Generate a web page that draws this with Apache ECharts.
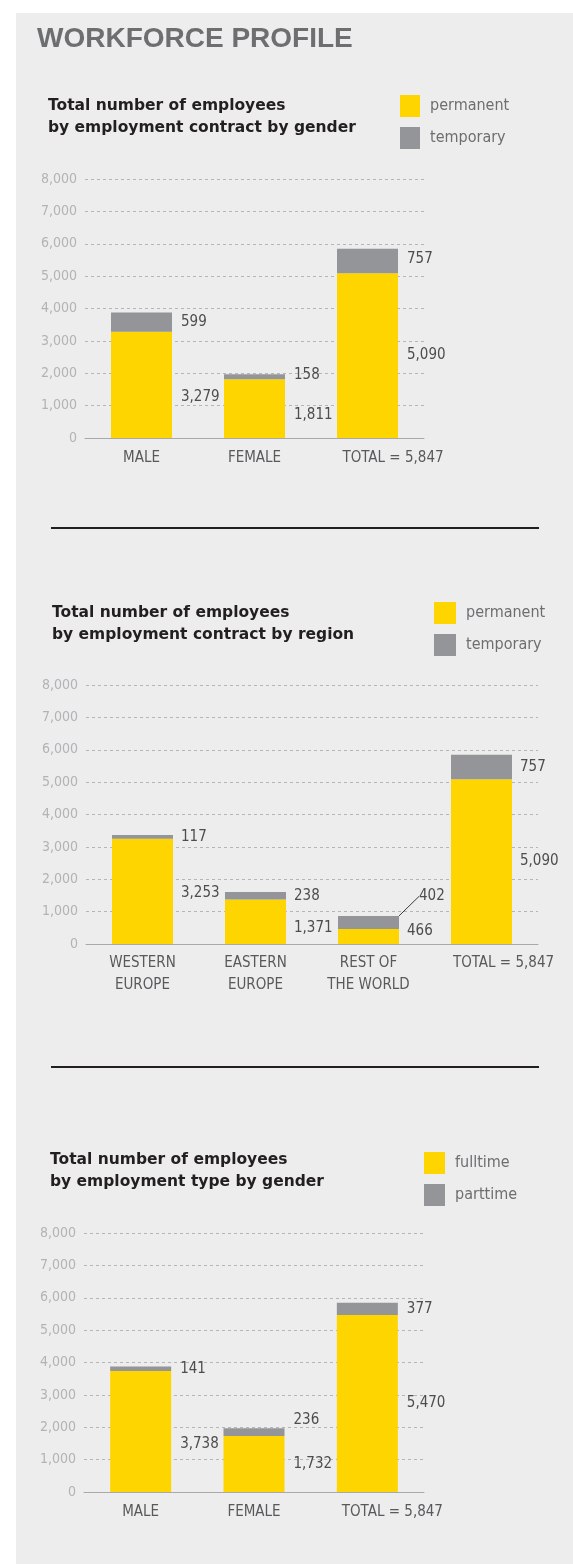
<!DOCTYPE html>
<html>
<head>
<meta charset="utf-8">
<script src="https://cdn.jsdelivr.net/npm/echarts@6/dist/echarts.min.js"></script>
<style>
html,body{margin:0;padding:0;background:#ffffff;}
#c{width:573px;height:1564px;}
</style>
</head>
<body>
<div id="c"></div>
<script>
// ---------- DATA ----------
const yAxisMin = 0;
const yAxisMax = 8000;
const yAxisInterval = 1000;

const genderCategories = ['MALE', 'FEMALE', 'TOTAL = 5,847'];
const contractGenderPermanent = [3279, 1811, 5090];
const contractGenderTemporary = [599, 158, 757];

const regionCategories = ['WESTERN\nEUROPE', 'EASTERN\nEUROPE', 'REST OF\nTHE WORLD', 'TOTAL = 5,847'];
const contractRegionPermanent = [3253, 1371, 466, 5090];
const contractRegionTemporary = [117, 238, 402, 757];

const typeCategories = ['MALE', 'FEMALE', 'TOTAL = 5,847'];
const typeGenderFulltime = [3738, 1732, 5470];
const typeGenderParttime = [141, 236, 377];

const pageTitle = 'WORKFORCE PROFILE';
const chartTitles = [
  ['Total number of employees', 'by employment contract by gender'],
  ['Total number of employees', 'by employment contract by region'],
  ['Total number of employees', 'by employment type by gender']
];
const seriesNames = [
  ['permanent', 'temporary'],
  ['permanent', 'temporary'],
  ['fulltime', 'parttime']
];

// ---------- STYLE ----------
const NARROW = '"Liberation Sans Narrow","DejaVu Sans Condensed",sans-serif';
const YELLOW = '#ffd500';
const GREY = '#939598';
const PANEL = '#ededed';

const layouts = [
  {
    cats: genderCategories, a: contractGenderPermanent, b: contractGenderTemporary,
    grid: {left: 85, top: 179, width: 339, height: 259},
    legend: {left: 400, top: 95, itemWidth: 20},
    title: {x: 48, y1: 106, y2: 128},
    aOff: [12, 6, 0], bOff: [0, -2, -2], dist: 9, margin: 9, totalPad: 51
  },
  {
    cats: regionCategories, a: contractRegionPermanent, b: contractRegionTemporary,
    grid: {left: 86, top: 685, width: 452, height: 259},
    legend: {left: 434, top: 602, itemWidth: 22},
    title: {x: 52, y1: 613, y2: 635},
    aOff: [2, 6, -5, 0], bOff: [0, 0, 0, -3], dist: 8, margin: 8, totalPad: 44,
    moved: {index: 2, dx: 12, dy: -26}
  },
  {
    cats: typeCategories, a: typeGenderFulltime, b: typeGenderParttime,
    grid: {left: 84, top: 1233, width: 340, height: 259},
    legend: {left: 424, top: 1152, itemWidth: 21},
    title: {x: 50, y1: 1160, y2: 1182},
    aOff: [13, 0, 0], bOff: [0, -12, 0], dist: 9, margin: 9, totalPad: 50
  }
];

const fmt = v => Number(v).toLocaleString('en-US');

const grid = [], xAxis = [], yAxis = [], series = [], legend = [];
const graphic = [
  {type: 'rect', z: -100, silent: true, shape: {x: 16, y: 13, width: 557, height: 1551}, style: {fill: PANEL}},
  {type: 'text', silent: true, x: 37, y: 39, style: {text: pageTitle, fill: '#6d6e70', font: 'bold 28px "Liberation Sans",Arial,sans-serif', verticalAlign: 'middle'}},
  {type: 'line', silent: true, shape: {x1: 51, y1: 528, x2: 539, y2: 528}, style: {stroke: '#231f20', lineWidth: 2}},
  {type: 'line', silent: true, shape: {x1: 51, y1: 1067, x2: 539, y2: 1067}, style: {stroke: '#231f20', lineWidth: 2}}
];

layouts.forEach((L, i) => {
  grid.push(Object.assign({containLabel: false}, L.grid));
  xAxis.push({
    type: 'category', gridIndex: i,
    data: L.cats.map(c => c.indexOf('TOTAL') === 0 ? {value: c, textStyle: {padding: [0, 0, 0, L.totalPad]}} : c),
    axisTick: {show: false},
    axisLine: {lineStyle: {color: '#a7a9ac', width: 1}},
    axisLabel: {interval: 0, color: '#58595b', fontFamily: NARROW, fontSize: 15, lineHeight: 22, margin: L.margin}
  });
  yAxis.push({
    type: 'value', gridIndex: i, min: yAxisMin, max: yAxisMax, interval: yAxisInterval,
    axisLine: {show: false}, axisTick: {show: false},
    splitLine: {lineStyle: {color: '#b4b5b7', type: [3, 3], width: 1}},
    axisLabel: {color: '#b1b3b6', fontFamily: NARROW, fontSize: 14, margin: 8, formatter: fmt}
  });
  const labelBase = {show: true, position: 'right', distance: L.dist, color: '#4d4d4f', fontFamily: NARROW, fontSize: 15, formatter: p => fmt(p.value)};
  series.push({
    name: seriesNames[i][0], type: 'bar', stack: 's' + i, xAxisIndex: i, yAxisIndex: i,
    barWidth: 61, itemStyle: {color: YELLOW}, emphasis: {disabled: true},
    label: labelBase,
    data: L.a.map((v, k) => ({value: v, label: {offset: [0, L.aOff[k] || 0]}}))
  });
  const s2 = {
    name: seriesNames[i][1], type: 'bar', stack: 's' + i, xAxisIndex: i, yAxisIndex: i,
    barWidth: 61, itemStyle: {color: GREY}, emphasis: {disabled: true},
    label: labelBase,
    labelLine: {show: false, lineStyle: {color: '#3c3c3e', width: 1}},
    data: L.b.map((v, k) => {
      const item = {value: v, label: {offset: [0, L.bOff[k] || 0]}};
      if (L.moved && L.moved.index === k) item.labelLine = {show: true, lineStyle: {color: '#3c3c3e', width: 1}};
      return item;
    })
  };
  if (L.moved) {
    const m = L.moved;
    s2.labelLayout = function (params) {
      if (params.dataIndex === m.index) return {dx: m.dx, dy: m.dy};
    };
  }
  series.push(s2);
  legend.push({
    orient: 'vertical', left: L.legend.left, top: L.legend.top, padding: 0,
    itemWidth: L.legend.itemWidth, itemHeight: 22, itemGap: 10, icon: 'rect',
    selectedMode: false,
    data: seriesNames[i],
    textStyle: {color: '#6d6e70', fontFamily: NARROW, fontSize: 16, padding: [0, 0, 0, 5]}
  });
  graphic.push(
    {type: 'text', silent: true, x: L.title.x, y: L.title.y1, style: {text: chartTitles[i][0], fill: '#231f20', font: 'bold 15.5px "DejaVu Sans",sans-serif', verticalAlign: 'middle'}},
    {type: 'text', silent: true, x: L.title.x, y: L.title.y2, style: {text: chartTitles[i][1], fill: '#231f20', font: 'bold 15.5px "DejaVu Sans",sans-serif', verticalAlign: 'middle'}}
  );
});

const chart = echarts.init(document.getElementById('c'), null, {renderer: 'canvas'});
chart.setOption({
  backgroundColor: '#ffffff',
  animation: false,
  grid, xAxis, yAxis, series, legend, graphic
});
</script>
</body>
</html>
